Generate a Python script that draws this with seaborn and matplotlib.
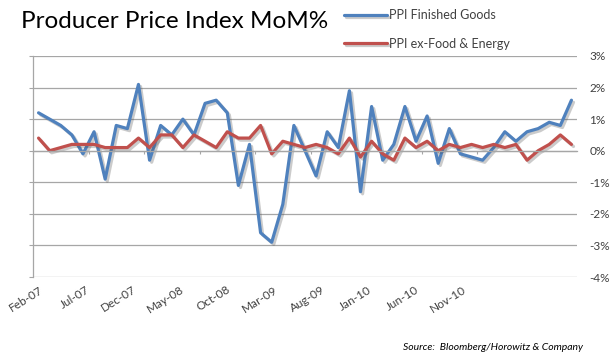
import numpy as np
import pandas as pd
import matplotlib
matplotlib.use("Agg")
import matplotlib.pyplot as plt
import matplotlib.patheffects as pe
from matplotlib.ticker import FuncFormatter
import seaborn as sns

# ---------------- data ----------------
months = pd.date_range("2007-02-01", "2011-02-01", freq="MS").strftime("%b-%y").tolist()
finished_goods = [1.2, 1.0, 0.8, 0.5, -0.1, 0.6, -0.9, 0.8, 0.7, 2.1,
                  -0.3, 0.8, 0.5, 1.0, 0.5, 1.5, 1.6, 1.2, -1.1, 0.2,
                  -2.6, -2.9, -1.7, 0.8, 0.0, -0.8, 0.6, 0.1, 1.9, -1.3,
                  1.4, -0.3, 0.2, 1.4, 0.3, 1.1, -0.4, 0.7, -0.1, -0.2,
                  -0.3, 0.1, 0.6, 0.3, 0.6, 0.7, 0.9, 0.8, 1.6]
ex_food_energy = [0.4, 0.0, 0.1, 0.2, 0.2, 0.2, 0.1, 0.1, 0.1, 0.4,
                  0.1, 0.5, 0.5, 0.1, 0.5, 0.3, 0.1, 0.6, 0.4, 0.4,
                  0.8, -0.1, 0.3, 0.2, 0.1, 0.2, 0.1, -0.1, 0.4, -0.2,
                  0.3, -0.1, -0.3, 0.4, 0.1, 0.3, 0.0, 0.2, 0.1, 0.2,
                  0.1, 0.2, 0.1, 0.2, -0.3, 0.0, 0.2, 0.5, 0.2]
series_names = ["PPI Finished Goods", "PPI ex-Food & Energy"]
label_months = ["Feb-07", "Jul-07", "Dec-07", "May-08", "Oct-08",
                "Mar-09", "Aug-09", "Jan-10", "Jun-10", "Nov-10"]
y_ticks = [-4, -3, -2, -1, 0, 1, 2, 3]

df = pd.DataFrame({
    "idx": list(range(len(months))) * 2,
    "month": months * 2,
    "value": finished_goods + ex_food_energy,
    "series": [series_names[0]] * len(months) + [series_names[1]] * len(months),
})

# ---------------- style ----------------
sns.set_theme(style="white")
FONT = ["Lato", "DejaVu Sans"]
plt.rcParams["font.family"] = FONT
colors = {series_names[0]: "#4F81BD", series_names[1]: "#C0504D"}
grid_c = "#A6A6A6"

fig = plt.figure(figsize=(6.10, 3.57), dpi=100)
ax = fig.add_axes([33 / 610, 1 - 277 / 357, (577 - 33) / 610, (277 - 56) / 357])

sns.lineplot(data=df, x="idx", y="value", hue="series", palette=colors,
             linewidth=2.3, ax=ax, legend=True)

for ln in ax.get_lines():
    ln.set_path_effects([pe.SimpleLineShadow(offset=(1.5, -1.5), shadow_color="#555555", alpha=0.3),
                         pe.Normal()])

ax.set_xlim(-0.5, len(months) - 0.5)
ax.set_ylim(min(y_ticks), max(y_ticks))
ax.set_xlabel("")
ax.set_ylabel("")

# horizontal grid
ax.set_yticks(y_ticks)
ax.yaxis.grid(True, color=grid_c, linewidth=0.9)
ax.xaxis.grid(False)
ax.set_axisbelow(True)
ax.yaxis.set_major_formatter(FuncFormatter(lambda v, p: f"{v:.0f}%".replace("\u2212", "-")))
ax.tick_params(axis="y", left=True, right=False, labelleft=False, labelright=True,
               length=3, width=0.8, color=grid_c, labelsize=8.5, labelcolor="#404040", pad=6)

# spines: left visible, bottom at 0 (category axis with small ticks)
for s in ["top", "right"]:
    ax.spines[s].set_visible(False)
ax.spines["left"].set_color(grid_c)
ax.spines["left"].set_linewidth(0.9)
ax.spines["bottom"].set_position(("data", 0))
ax.spines["bottom"].set_color(grid_c)
ax.spines["bottom"].set_linewidth(0.9)
ax.set_xticks(np.arange(-0.5, len(months), 5))
ax.tick_params(axis="x", bottom=True, length=2.5, width=0.8, color=grid_c,
               labelbottom=False, direction="out")

# category labels (spread as in the reference)
label_scale = 0.847
lab = ax.twiny()
lab.set_xlim(ax.get_xlim()[0] / label_scale, ax.get_xlim()[1] / label_scale)
lab.xaxis.set_ticks_position("bottom")
lab.xaxis.set_label_position("bottom")
lab.set_xticks([months.index(m) for m in label_months])
lab.set_xticklabels(label_months, rotation=32, ha="right", rotation_mode="anchor",
                    fontsize=8.5, color="#404040")
lab.tick_params(axis="x", length=0, pad=5)
for s in lab.spines.values():
    s.set_visible(False)
lab.grid(False)

# legend
handles, labels = ax.get_legend_handles_labels()
ax.legend(handles, labels, loc="upper left", bbox_to_anchor=(338 / 610, 1 - 3 / 357),
          bbox_transform=fig.transFigure, frameon=False, fontsize=9,
          handlelength=3.4, handletextpad=0.15, labelspacing=1.3, borderpad=0,
          labelcolor="#404040")

# title and source
fig.text(21 / 610, 1 - 22 / 357, "Producer Price Index MoM%", fontsize=17.5,
         color="black", va="center", ha="left", family=FONT)
fig.text(583 / 610, 1 - 348 / 357, "Source:  Bloomberg/Horowitz & Company",
         fontsize=7.5, style="italic", color="black", ha="right", va="center", family=FONT)

fig.savefig("out.png", dpi=100)
